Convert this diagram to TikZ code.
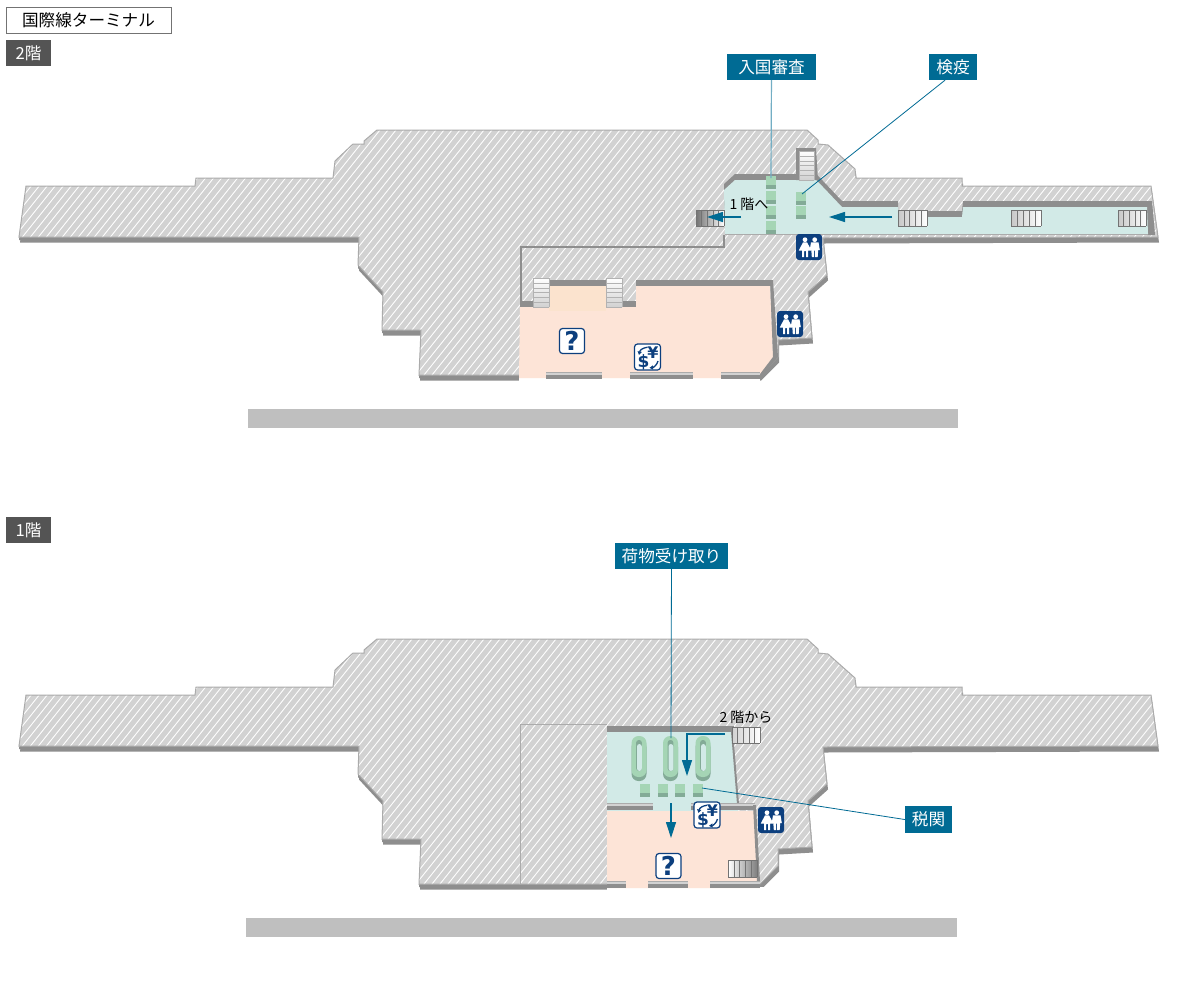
\documentclass[tikz,border=0pt]{standalone}
\usepackage{fontspec}
\setmainfont{Noto Sans CJK JP}
\newfontfamily\iconfont{DejaVu Sans}
\usetikzlibrary{arrows.meta}
\definecolor{wallc}{HTML}{8E8E8E}
\definecolor{floorc}{HTML}{D2D2D2}
\definecolor{edgec}{HTML}{ABABAB}
\definecolor{cyanroom}{HTML}{D2EAE7}
\definecolor{peachroom}{HTML}{FDE4D7}
\definecolor{niche}{HTML}{FBE3CE}
\definecolor{teal}{HTML}{006B94}
\definecolor{navy}{HTML}{0C3F7E}
\definecolor{boothtop}{HTML}{A5D5B5}
\definecolor{boothside}{HTML}{83AB97}
\definecolor{barc}{HTML}{BFBFBF}
\tikzset{
  x=1pt,y=-1pt,
  wall/.style={fill=wallc,draw=none},
  hatchline/.style={draw=white,draw opacity=.95,line width=.9pt},
  labelbox/.style={fill=teal,text=white,font=\fontsize{16.6}{16.6}\selectfont,inner sep=0pt,minimum height=26pt},
  floortag/.style={fill=black!67,text=white,font=\fontsize{16.6}{16.6}\selectfont,inner sep=0pt,minimum width=45pt,minimum height=26pt},
  leader/.style={draw=teal,line width=.8pt},
  flow/.style={draw=teal,line width=1.2pt,-{Triangle[length=16pt,width=10pt]}},
  note/.style={font=\fontsize{14}{14}\selectfont,text=black,inner sep=0pt},
  steplines/.style={draw=black!55,line width=.6pt},
  treadlines/.style={draw=black!30,line width=.6pt}
}
% the floor outline, shared by both levels
\def\floorpath{(26,186) -- (195,186) -- (196,178) -- (333,178) -- (335,161) -- (353,144) -- (364,144) -- (364,141) -- (377,130) -- (807,130) -- (818,140) -- (818,144) -- (828,145) -- (855,169) -- (856,178) -- (962,178) -- (962,186) -- (1151,186) -- (1158,237) -- (823,238) -- (827,275) -- (808,292) -- (812,338) -- (778,340) -- (778,357) -- (760,375) -- (419,375) -- (421,330) -- (382,330) -- (383,292) -- (358,265) -- (359,237) -- (19,237) -- cycle}
\newcommand{\drawfloor}{%
  \fill[wallc,shift={(1,5.5)}] \floorpath;
  \fill[wallc,shift={(0,3)}] \floorpath;
  \fill[floorc] \floorpath;
  \begin{scope}
    \clip \floorpath;
    \foreach \i in {-300,-292,...,1180} {\draw[hatchline] (\i,400) -- (\i+320,0);}
  \end{scope}
  \draw[edgec,line width=1pt] \floorpath;
}
% vertical-tread stair: x1,y1,x2,y2, shading left colour, right colour
\newcommand{\vstair}[6]{%
  \shade[left color=#5,right color=#6] (#1,#2) rectangle (#3,#4);
  \foreach \t in {0,.2,.4,.6,.8,1} {\draw[steplines] ({#1+\t*(#3-#1)},#2) -- ({#1+\t*(#3-#1)},#4);}
  \draw[steplines] (#1,#2) -- (#3,#2) (#1,#4) -- (#3,#4);
}
% horizontal-tread stair
\newcommand{\hstair}[4]{%
  \shade[top color=white,middle color=white,bottom color=black!18] (#1,#2) rectangle (#3,#4);
  \foreach \t in {0,.17,.34,.5,.67,.84,1} {\draw[treadlines] (#1,{#2+\t*(#4-#2)}) -- (#3,{#2+\t*(#4-#2)});}
  \draw[treadlines] (#1,#2) -- (#1,#4) (#3,#2) -- (#3,#4);
}
% green check booth: x, y
\newcommand{\booth}[2]{%
  \fill[boothside] (#1,#2+8) rectangle (#1+10,#2+13);
  \fill[boothtop] (#1,#2) rectangle (#1+10,#2+9);
}
% low wall segment: x1,x2,ytop
\newcommand{\lowwall}[3]{%
  \fill[wallc] (#1,#3+3) rectangle (#2,#3+7);
  \fill[floorc] (#1,#3) rectangle (#2,#3+3);
  \draw[edgec,line width=.6pt] (#1,#3) -- (#2,#3);
}
% pictograms, positioned by their top-left corner
\newcommand{\iconrest}[2]{%
  \begin{scope}[shift={(#1,#2)}]
    \fill[navy,rounded corners=3pt] (0,0) rectangle (26,26);
    \fill[white] (9,5.7) circle (2.4);
    \fill[white] (7,8.3) -- (11,8.3) -- (15.5,16.5) -- (12,16.5) -- (12,23) -- (10,23) -- (10,17) -- (8,17) -- (8,23) -- (6,23) -- (6,16.5) -- (2.8,16.5) -- cycle;
    \fill[white] (18.7,5.7) circle (2.4);
    \fill[white] (15,8.3) -- (22.5,8.3) -- (23.8,16) -- (22.2,16) -- (21.7,23) -- (19.2,23) -- (19.2,16.5) -- (18.2,16.5) -- (18.2,23) -- (15.8,23) -- (15.3,16) -- (13.7,16) -- cycle;
  \end{scope}
}
\newcommand{\iconinfo}[2]{%
  \node[draw=navy,line width=1.2pt,fill=white,rounded corners=3pt,minimum size=25pt,inner sep=0pt,text=navy,
    font=\iconfont\fontsize{26}{26}\selectfont\bfseries] at (#1+13,#2+13) {?};
}
\newcommand{\iconmoney}[2]{%
  \begin{scope}[shift={(#1,#2)}]
    \draw[navy,line width=1.2pt,fill=white,rounded corners=3pt] (0,0) rectangle (26,26);
    \node[inner sep=0pt,text=navy,font=\iconfont\fontsize{17}{17}\selectfont\bfseries] at (9,18) {\$};
    \node[inner sep=0pt,text=navy,font=\iconfont\fontsize{16}{16}\selectfont\bfseries] at (18.5,9) {¥};
    \draw[navy,line width=1.3pt,-{Triangle[length=3.5pt,width=4pt]}] (13,3.2) .. controls (8,4) and (5.5,6) .. (4.5,11);
    \draw[navy,line width=1.3pt,-{Triangle[length=3.5pt,width=4pt]}] (23.5,17) .. controls (22.5,21) and (19,23.5) .. (15,23.8);
  \end{scope}
}
\begin{document}
\begin{tikzpicture}
\useasboundingbox (0,0) rectangle (1182,1004);
\fill[white] (0,0) rectangle (1182,1004);

% headings
\node[draw=black!55,line width=.7pt,fill=white,minimum width=165pt,minimum height=26pt,inner sep=0pt,font=\fontsize{16.6}{16.6}\selectfont] (title) at (88.5,20) {国際線ターミナル};
\node[floortag] (tagTwo) at (28.5,53) {2階};
\node[floortag] (tagOne) at (28.5,530) {1階};

%%%%%%%%%%%%%%%%%%%% second floor
\drawfloor
% left passage line
\draw[wallc,line width=1.2pt] (521,302) -- (521,247) -- (724,247) -- (724,235);
% arrivals corridor
\def\cyanpath{(724,190) -- (735,180) -- (816,180) -- (823,187) -- (842,207) -- (898,207) -- (898,217) -- (962,217) -- (963,207) -- (1147,207) -- (1148,234) -- (725,234) -- cycle}
\fill[wallc,shift={(0,-6)}] \cyanpath;
\fill[wallc] (1145,201) -- (1152,201) -- (1155,235) -- (1147,235) -- cycle;
\fill[cyanroom] \cyanpath;
\draw[edgec,line width=.8pt] (725,234.5) -- (1148,234.5);
\fill[wallc] (796,148) -- (816,148) -- (818,180) -- (796,180) -- cycle;
\hstair{799}{151}{814}{180}
\vstair{898}{210}{927}{226}{black!22}{white}
\vstair{1011}{210}{1041}{226}{black!22}{white}
\vstair{1118}{210}{1146}{226}{black!22}{white}
\vstair{696}{210}{724}{226}{black!55}{white}
% hall
\def\peachpath{(520,307) -- (636,307) -- (636,286) -- (770,286) -- (773,357) -- (758,378) -- (519,378) -- cycle}
\fill[white] (519,377) rectangle (760,386);
\fill[wallc] (520,301) rectangle (636,307);
\fill[wallc] (636,280) rectangle (772,286);
\fill[peachroom] \peachpath;
\fill[wallc] (770,280) -- (773,280) -- (778,357) -- (760,377) -- (757,378) -- (773,357) -- cycle;
\fill[wallc] (549,280) rectangle (606,286);
\fill[niche] (549,286) rectangle (606,311);
\hstair{533}{278}{549}{307}
\hstair{606}{278}{622}{307}
\lowwall{546}{602}{372}
\lowwall{630}{693}{372}
\lowwall{721}{760}{372}
% booths
\booth{766}{176}\booth{766}{191}\booth{766}{206}\booth{766}{221}
\booth{796}{192}\booth{796}{206}
% pictograms
\iconrest{796}{234}
\iconrest{777}{311}
\iconinfo{559}{328}
\iconmoney{634.5}{344}
% callouts
\node[labelbox,minimum width=89pt] (immig) at (771.5,67) {入国審査};
\node[labelbox,minimum width=48pt] (quar) at (953,67) {検疫};
\coordinate (immigEnd) at (771,178);
\coordinate (quarEnd) at (802,194);
\draw[draw=teal!55,line width=1.2pt] (immig) -- (immigEnd);
\draw[leader] ([xshift=-8pt]quar.south) -- (quarEnd);
% flow arrows
\node[note] (toOne) at (749,204) {1 階へ};
\coordinate (a1) at (741,217); \coordinate (a2) at (707,217);
\coordinate (b1) at (892,217); \coordinate (b2) at (829,217);
\draw[flow] (a1) -- (a2);
\draw[flow] (b1) -- (b2);
% plain bar
\fill[barc] (248,409) rectangle (958,428);

%%%%%%%%%%%%%%%%%%%% first floor
\begin{scope}[shift={(0,509)}]
\drawfloor
\end{scope}
\draw[edgec,line width=1pt] (607,724) -- (520,724) -- (520,884);
% baggage hall
\fill[wallc] (607,726) rectangle (734,732);
\fill[cyanroom] (607,732) -- (732,732) -- (738,803) -- (738,812) -- (607,812) -- cycle;
\fill[wallc] (731,732) -- (733,732) -- (739,804) -- (737,804) -- cycle;
% arrivals lobby
\fill[white] (607,887) rectangle (770,895);
\fill[peachroom] (607,811) -- (755,811) -- (758,882) -- (760,888) -- (607,888) -- cycle;
\lowwall{607}{653}{803}
\lowwall{691}{755}{803}
\fill[wallc] (753,805) -- (756,805) -- (760,882) -- (757,882) -- cycle;
\lowwall{607}{626}{881}
\lowwall{648}{688}{881}
\lowwall{710}{760}{881}
\vstair{732}{727}{760}{743}{black!18}{white}
\vstair{728}{860}{757}{877}{white}{black!50}
% carousels
\foreach \cx in {639,670.5,703} {
  \fill[boothside,rounded corners=7pt] (\cx-7.5,740) rectangle (\cx+7.5,781);
  \fill[boothtop,rounded corners=7pt] (\cx-7.5,736) rectangle (\cx+7.5,777);
  \fill[boothside,rounded corners=2.5pt] (\cx-2.8,740) rectangle (\cx+2.8,771);
  \fill[cyanroom,rounded corners=2.5pt] (\cx-2,744) rectangle (\cx+2.8,771);
}
\booth{640}{784}\booth{657.5}{784}\booth{675}{784}\booth{693}{784}
% pictograms
\iconrest{758}{807}
\iconinfo{655.5}{853}
\iconmoney{694}{802}
% callouts
\node[labelbox,minimum width=113pt] (bags) at (671.5,556) {荷物受け取り};
\node[labelbox,minimum width=47pt,minimum height=27pt] (customs) at (928.5,819.5) {税関};
\coordinate (bagsEnd) at (671,738);
\coordinate (customsEnd) at (702,788);
\draw[leader] (bags) -- (bagsEnd);
\draw[leader] (customs.west) -- (customsEnd);
% flow arrows
\node[note] (fromTwo) at (746,717) {2 階から};
\coordinate (c1) at (725,734); \coordinate (c2) at (687,734); \coordinate (c3) at (687,776);
\coordinate (d1) at (671,803); \coordinate (d2) at (671,838);
\draw[flow] (c1) -- (c2) -- (c3);
\draw[flow] (d1) -- (d2);
% plain bar
\fill[barc] (246,918) rectangle (957,937);
\end{tikzpicture}
\end{document}
